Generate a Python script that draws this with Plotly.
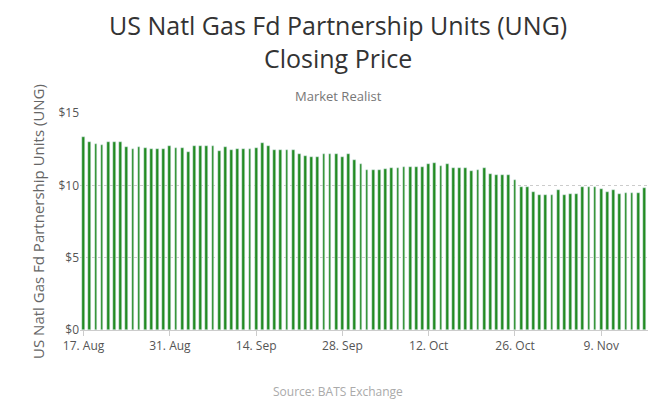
import pandas as pd
import plotly.graph_objects as go

dates = pd.date_range("2015-08-17", periods=92, freq="D")
prices = [
    13.31, 12.97, 12.83, 12.76, 12.97, 12.97, 12.97, 12.62, 12.48, 12.62,
    12.55, 12.48, 12.48, 12.48, 12.69, 12.55, 12.55, 12.28, 12.69, 12.69,
    12.69, 12.69, 12.34, 12.62, 12.41, 12.48, 12.48, 12.48, 12.55, 12.90,
    12.69, 12.41, 12.41, 12.41, 12.41, 12.14, 12.00, 11.93, 11.93, 12.14,
    12.14, 12.14, 11.93, 12.14, 11.72, 11.45,
    11.03, 11.03, 11.03, 11.10, 11.17, 11.17, 11.24, 11.24, 11.24, 11.24,
    11.45, 11.52, 11.31, 11.45, 11.17, 11.17, 11.17, 10.97, 11.03, 11.17,
    10.76, 10.69, 10.69, 10.69, 10.34, 9.86, 9.86, 9.52, 9.31, 9.31,
    9.31, 9.66, 9.31, 9.38, 9.38, 9.86, 9.86, 9.86, 9.72, 9.52,
    9.66, 9.38, 9.45, 9.45, 9.45, 9.79,
]
tick_dates = pd.date_range("2015-08-17", periods=7, freq="14D")
tick_labels = [d.strftime("%-d. %b") for d in tick_dates]

L, R, T, B = 72, 20, 105, 78
page_mid = (330 - L) / (660 - L - R)

fig = go.Figure(go.Bar(x=dates, y=prices, marker_color="#228B22", width=86400000 * 0.45))
fig.update_layout(
    width=660, height=400, paper_bgcolor="white", plot_bgcolor="white",
    font=dict(family="Open Sans", color="#666"),
    margin=dict(l=L, r=R, t=T, b=B),
    showlegend=False, bargap=0,
)
fig.add_annotation(text="US Natl Gas Fd Partnership Units (UNG)<br>Closing Price",
                   x=page_mid, y=1.0, xref="paper", yref="paper", showarrow=False,
                   xanchor="center", yanchor="top", yshift=T + 2,
                   font=dict(size=25, color="#333"))
fig.add_annotation(text="Market Realist", x=page_mid, y=1.0, xref="paper", yref="paper",
                   yanchor="bottom", yshift=6, showarrow=False,
                   font=dict(size=13, color="#777"))
fig.add_annotation(text="Source: BATS Exchange", x=page_mid, y=0, xref="paper", yref="paper",
                   yanchor="middle", yshift=-61, showarrow=False,
                   font=dict(size=12, color="#aaa"))
fig.update_xaxes(tickvals=tick_dates, ticktext=tick_labels, ticks="outside", ticklen=5,
                 tickcolor="#ccc", showline=True, linecolor="#ccc",
                 range=[dates[0] - pd.Timedelta(hours=14), dates[-1] + pd.Timedelta(hours=14)],
                 tickfont=dict(size=12, color="#555"), showgrid=False)
fig.update_yaxes(range=[0, 15], tickvals=[0, 5, 10, 15],
                 ticktext=["$0", "$5", "$10", "$15"], showgrid=True, gridcolor="#ccc",
                 griddash="dot", zeroline=False, tickfont=dict(size=12, color="#555"),
                 title=dict(text="US Natl Gas Fd Partnership Units (UNG)",
                            font=dict(size=15, color="#666"), standoff=10))
fig.write_html("out.html")
